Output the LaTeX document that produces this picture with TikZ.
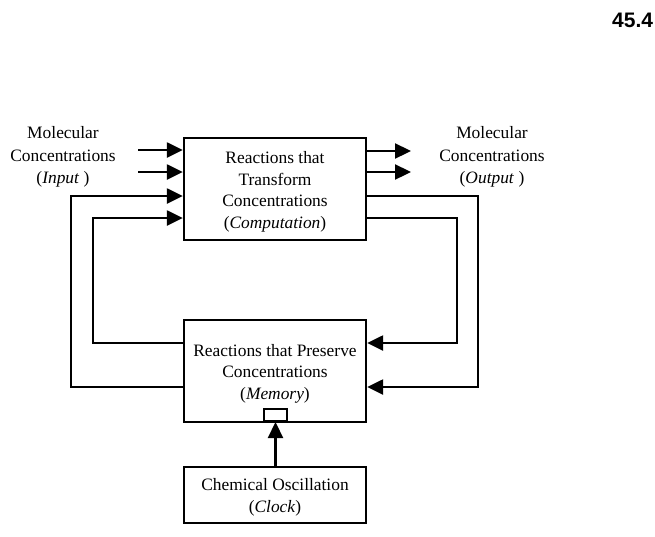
\documentclass[tikz,border=0pt]{standalone}
\usepackage{fontspec}
\setmainfont{Liberation Serif}
\newfontfamily\headfont{Liberation Sans}
\usetikzlibrary{arrows.meta}
\begin{document}
\begin{tikzpicture}[x=1pt,y=-1pt,
  box/.style={draw,line width=2.3pt,minimum width=182pt,inner sep=0pt},
  txt/.style={inner sep=0pt,align=center,font=\fontsize{17.4}{21.6}\selectfont},
  lbl/.style={align=center,font=\fontsize{17.4}{22.5}\selectfont},
  wire/.style={line width=2.3pt},
  arr/.style={wire,-{Triangle[length=16pt,width=15pt]}}]
\useasboundingbox (0,0) rectangle (655,536);
\node[anchor=base west,font=\headfont\bfseries\fontsize{21}{25}\selectfont,inner sep=0pt] (num) at (612,27) {45.4};
\node[box,minimum height=102pt] (top) at (275,189) {};
\node[txt] (toptxt) at ([yshift=-3pt]top.center) {Reactions that\\Transform\\Concentrations\\(\textit{Computation})};
\node[box,minimum height=102pt] (mem) at (275,371) {};
\node[txt] (memtxt) at ([yshift=-2.5pt]mem.center) {Reactions that Preserve\\Concentrations\\(\textit{Memory})};
\node[box,minimum height=56pt] (clk) at (275,495) {};
\node[txt] (clktxt) at ([yshift=-2.5pt]clk.center) {Chemical Oscillation\\(\textit{Clock})};
\node[draw,line width=2.3pt,minimum width=23pt,minimum height=12pt,inner sep=0pt,anchor=south] (sq) at (275.5,422) {};
\node[lbl] (inl) at (63,157) {Molecular\\Concentrations\\(\textit{Input} )};
\node[lbl] (outl) at (492,157) {Molecular\\Concentrations\\(\textit{Output} )};
% input arrows
\coordinate (i1) at (138,150);
\coordinate (i2) at (138,172);
\draw[arr] (i1) -- (top.west |- i1);
\draw[arr] (i2) -- (top.west |- i2);
% output arrows
\coordinate (o1) at (411,151);
\coordinate (o2) at (411,172);
\draw[arr] (top.east |- o1) -- (o1);
\draw[arr] (top.east |- o2) -- (o2);
% left feedback loops
\coordinate (lo) at (71,387);
\coordinate (lotop) at (71,196);
\coordinate (li) at (93,343);
\coordinate (litop) at (93,218);
\draw[arr] (mem.west |- lo) -- (lo) -- (lotop) -- (top.west |- lotop);
\draw[arr] (mem.west |- li) -- (li) -- (litop) -- (top.west |- litop);
% right feedback loops
\coordinate (ro) at (478,196);
\coordinate (robot) at (478,387);
\coordinate (ri) at (457,218);
\coordinate (ribot) at (457,343);
\draw[arr] (top.east |- ro) -- (ro) -- (robot) -- (mem.east |- robot);
\draw[arr] (top.east |- ri) -- (ri) -- (ribot) -- (mem.east |- ribot);
% clock
\draw[arr] (clk.north -| sq.south) -- (sq.south);
\end{tikzpicture}
\end{document}
